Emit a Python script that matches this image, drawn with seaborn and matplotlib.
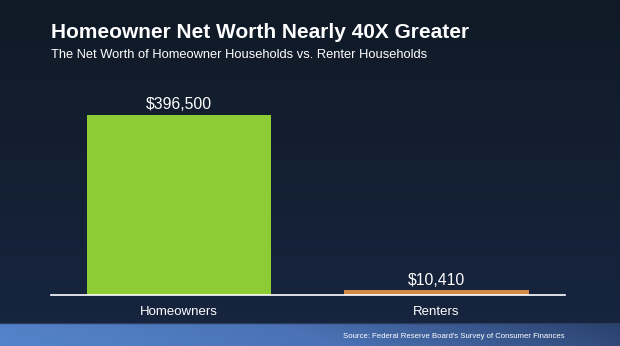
import numpy as np
import pandas as pd
import matplotlib
matplotlib.use("Agg")
import matplotlib.pyplot as plt
import seaborn as sns
from matplotlib.colors import LinearSegmentedColormap

categories = ["Homeowners", "Renters"]
values = [396500, 10410]
value_labels = ["$396,500", "$10,410"]
bar_colors = ["#8dcc35", "#d08a45"]

title = "Homeowner Net Worth Nearly 40X Greater"
subtitle = "The Net Worth of Homeowner Households vs. Renter Households"
source = "Source: Federal Reserve Board's Survey of Consumer Finances"

sns.set_theme(style="dark")
plt.rcParams['font.family'] = ['Liberation Sans', 'DejaVu Sans']

W, H = 620, 346
fig = plt.figure(figsize=(W / 100, H / 100), dpi=100)

# background gradient
bg = fig.add_axes([0, 0, 1, 1], zorder=0)
bg.set_axis_off()
grad = np.linspace(0, 1, 256).reshape(-1, 1)
cm_bg = LinearSegmentedColormap.from_list("bg", ["#101a26", "#172540"])
bg.imshow(grad, aspect="auto", cmap=cm_bg, extent=[0, 1, 0, 1], origin="upper")
bg.set_xlim(0, 1)
bg.set_ylim(0, 1)

# bottom band with diagonal gradient
band_h = 23 / H
band = fig.add_axes([0, 0, 1, band_h], zorder=1)
band.set_axis_off()
xx, yy = np.meshgrid(np.linspace(0, 1, 400), np.linspace(0, 1, 40))
g = np.clip(xx * 0.9 + (1 - yy) * 0.1, 0, 1)
cm_band = LinearSegmentedColormap.from_list("band", ["#5584cc", "#4a72b4", "#2a406c"])
band.imshow(g, aspect="auto", cmap=cm_band, extent=[0, 1, 0, 1], origin="upper")
band.plot([0, 1], [1, 1], color="#2c3e62", lw=1, transform=band.transAxes)

# main axes
ax = fig.add_axes([51 / W, 51 / H, 514 / W, 215 / H], zorder=2)
ax.set_facecolor("none")
df = pd.DataFrame({"cat": categories, "val": values})
sns.barplot(data=df, x="cat", y="val", hue="cat", palette=bar_colors,
            width=0.715, legend=False, ax=ax, saturation=1,
            edgecolor="none", linewidth=0)
for i, (v, lab) in enumerate(zip(values, value_labels)):
    ax.text(i, v + 6000, lab, ha="center", va="bottom", color="white",
            fontsize=11.3)
ax.set_xlim(-0.497, 1.499)
ax.set_ylim(0, 396500 * 215 / 180)
ax.set_yticks([])
ax.set_xlabel("")
ax.set_ylabel("")
for s in ["top", "right", "left"]:
    ax.spines[s].set_visible(False)
ax.spines["bottom"].set_color("white")
ax.spines["bottom"].set_linewidth(1.2)
ax.tick_params(axis="x", colors="white", labelsize=9.5, length=0, pad=8)
ax.grid(False)

fig.text(51 / W, 1 - 33 / H, title, color="white", fontsize=15,
         fontweight="bold", ha="left", va="center", zorder=3)
fig.text(51 / W, 1 - 55 / H, subtitle, color="white", fontsize=9.3,
         ha="left", va="center", zorder=3)
fig.text(565 / W, 1 - 336.5 / H, source, color="white", fontsize=5.6,
         ha="right", va="center", zorder=3)

fig.savefig("out.png", dpi=100)
